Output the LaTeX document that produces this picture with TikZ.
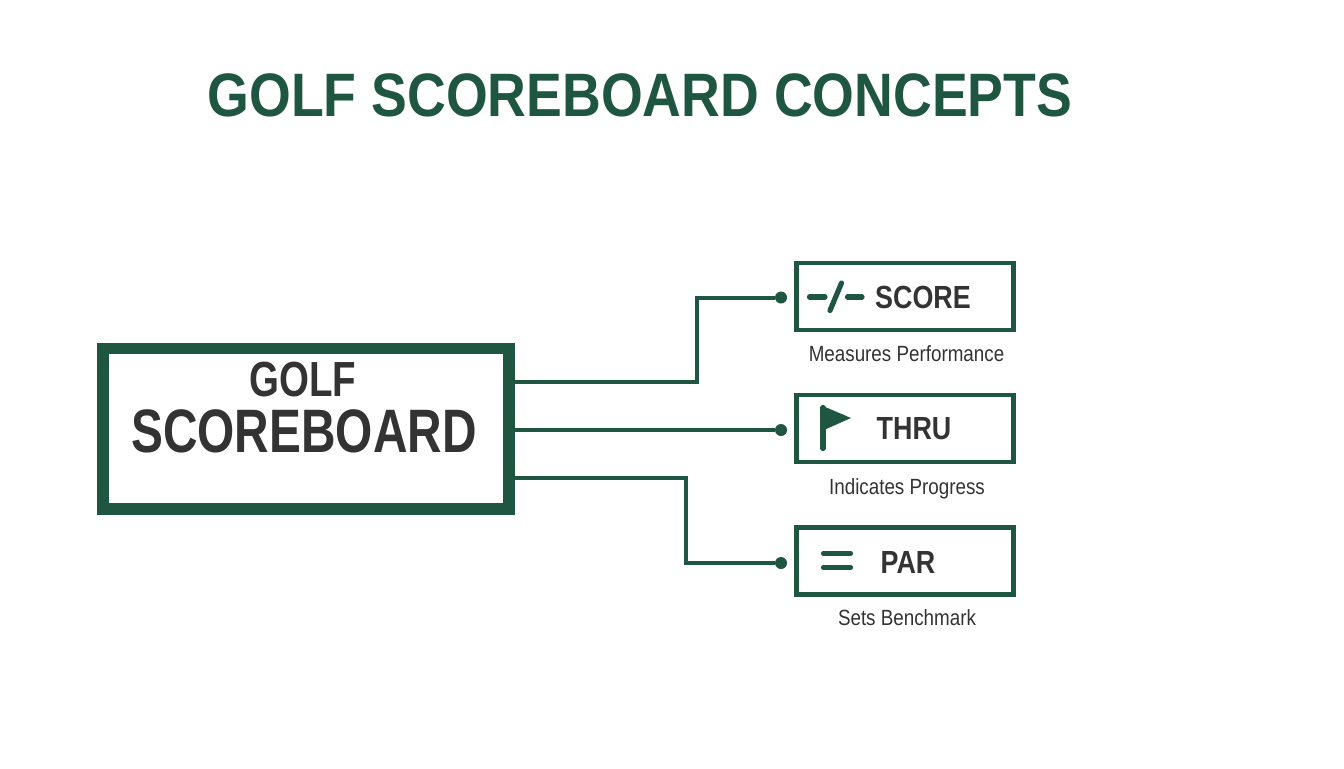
\documentclass[tikz,border=0pt]{standalone}
\usepackage{fontspec}
\setmainfont{Liberation Sans}
\newfontfamily\labelfont[FakeStretch=0.84]{Liberation Sans}
\newfontfamily\titlefont[FakeStretch=0.875]{Liberation Sans}
\newfontfamily\boardfont[FakeStretch=0.78]{Liberation Sans}
\newfontfamily\notefont[FakeStretch=0.855]{Liberation Sans}
\definecolor{golfgreen}{RGB}{30,86,66}
\definecolor{inkgrey}{RGB}{51,51,51}
\tikzset{
	every picture/.style={line width=0.75pt},
	conceptbox/.style={draw=golfgreen,line width=3.4pt,minimum width=163pt,minimum height=50pt,inner sep=0pt},
	conceptname/.style={text=inkgrey,font=\labelfont\bfseries\fontsize{24}{24}\selectfont,inner sep=0pt},
	conceptnote/.style={text=inkgrey,font=\notefont\fontsize{16.5}{16.5}\selectfont,inner sep=0pt},
	wire/.style={draw=golfgreen,line width=3pt},
	enddot/.style={circle,fill=golfgreen,minimum size=9pt,inner sep=0pt},
	iconline/.style={draw=golfgreen,line width=3.9pt,line cap=round},
}

\begin{document}
\begin{tikzpicture}[x=0.75pt,y=0.75pt,yscale=-1,xscale=1]
	\useasboundingbox (0,0) rectangle (1344,768);

	% Title
	\node (title) at (640,95) [text=golfgreen,font=\titlefont\bfseries\fontsize{46}{46}\selectfont,inner sep=0pt] {GOLF SCOREBOARD CONCEPTS};

	% Main box
	\node (board) at (306,428.75) [draw=golfgreen,line width=8.8pt,minimum width=304.5pt,minimum height=120.4pt,inner sep=0pt] {};
	\node (boardone) at (303,379.5) [text=inkgrey,font=\boardfont\bfseries\fontsize{37}{37}\selectfont,inner sep=0pt] {GOLF};
	\node (boardtwo) at (304,431) [text=inkgrey,font=\boardfont\bfseries\fontsize{46}{46}\selectfont,inner sep=0pt] {SCOREBOARD};

	% Right boxes
	\node (score) at (905,296.5) [conceptbox] {};
	\node (thru) at (905,428.5) [conceptbox] {};
	\node (par) at (905,561) [conceptbox] {};

	\node (scorename) at (923,297) [conceptname] {SCORE};
	\node (thruname) at (914,429) [conceptname] {THRU};
	\node (parname) at (908,562) [conceptname] {PAR};

	\node (scorenote) at (906.5,354) [conceptnote] {Measures Performance};
	\node (thrunote) at (907,488.5) [conceptnote] {Indicates Progress};
	\node (parnote) at (907,618) [conceptnote] {Sets Benchmark};

	% End dots
	\node (scoredot) at (781,297.5) [enddot] {};
	\node (thrudot) at (781,430) [enddot] {};
	\node (pardot) at (781,563) [enddot] {};

	% Connectors
	\coordinate (boardtop) at (board.east |- 0,382);
	\coordinate (boardlow) at (board.east |- 0,478);
	\coordinate (boardmid) at (board.east |- thrudot);
	\coordinate (bendtop) at (696.5,382);
	\coordinate (bendlow) at (686,478);
	\draw [wire] (boardtop) -- (bendtop) |- (scoredot);
	\draw [wire] (boardmid) -- (thrudot);
	\draw [wire] (boardlow) -- (bendlow) |- (pardot);

	% Icons
	\coordinate (dasha) at (809.5,297);
	\coordinate (dashb) at (825,297);
	\coordinate (slasha) at (841.5,283);
	\coordinate (slashb) at (830,310.5);
	\coordinate (dashc) at (847.5,297);
	\coordinate (dashd) at (862,297);
	\draw [iconline] (dasha) -- (dashb);
	\draw [iconline] (slasha) -- (slashb);
	\draw [iconline] (dashc) -- (dashd);

	\coordinate (poletop) at (823,407.5);
	\coordinate (polelow) at (823,448.5);
	\coordinate (flagtop) at (824,406.5);
	\coordinate (flagtip) at (851,418);
	\coordinate (flaglow) at (824,430);
	\draw [iconline] (poletop) -- (polelow);
	\fill [golfgreen] (flagtop) -- (flagtip) -- (flaglow) -- cycle;

	\coordinate (equa) at (823.5,553.5);
	\coordinate (equb) at (850.5,553.5);
	\coordinate (equc) at (823.5,567.5);
	\coordinate (equd) at (850.5,567.5);
	\draw [iconline] (equa) -- (equb);
	\draw [iconline] (equc) -- (equd);

\end{tikzpicture}
\end{document}
